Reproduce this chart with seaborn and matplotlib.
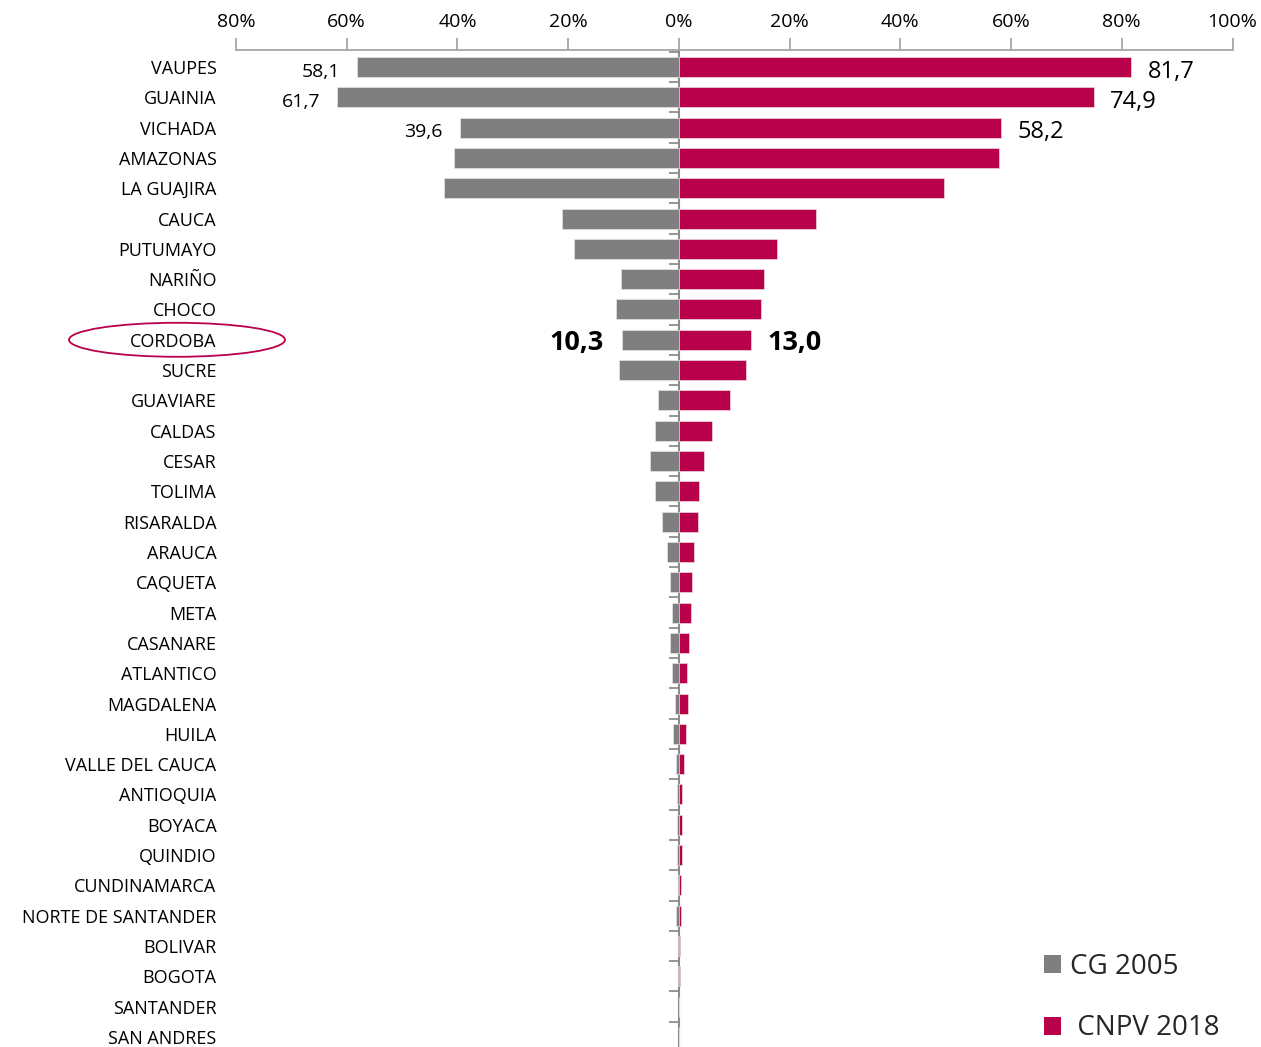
import matplotlib
matplotlib.use("Agg")
import matplotlib.pyplot as plt
import matplotlib.transforms as mtransforms
from matplotlib.patches import Ellipse, Patch
import seaborn as sns
import pandas as pd
import numpy as np

# ---------------- data ----------------
deptos = ["VAUPES", "GUAINIA", "VICHADA", "AMAZONAS", "LA GUAJIRA", "CAUCA",
          "PUTUMAYO", "NARIÑO", "CHOCO", "CORDOBA", "SUCRE", "GUAVIARE",
          "CALDAS", "CESAR", "TOLIMA", "RISARALDA", "ARAUCA", "CAQUETA", "META",
          "CASANARE", "ATLANTICO", "MAGDALENA", "HUILA", "VALLE DEL CAUCA",
          "ANTIOQUIA", "BOYACA", "QUINDIO", "CUNDINAMARCA", "NORTE DE SANTANDER",
          "BOLIVAR", "BOGOTA", "SANTANDER", "SAN ANDRES"]
cg2005 = [58.1, 61.7, 39.6, 40.6, 42.5, 21.1, 18.9, 10.4, 11.4, 10.3, 10.9,
          3.8, 4.3, 5.2, 4.3, 3.0, 2.2, 1.6, 1.3, 1.6, 1.3, 0.7, 1.0, 0.5,
          0.4, 0.4, 0.35, 0.2, 0.6, 0.1, 0.1, 0.05, 0.0]
cnpv2018 = [81.7, 74.9, 58.2, 57.8, 47.9, 24.8, 17.8, 15.4, 14.9, 13.0, 12.1,
            9.3, 5.9, 4.6, 3.6, 3.5, 2.65, 2.35, 2.1, 1.75, 1.5, 1.6, 1.2, 0.85,
            0.6, 0.6, 0.55, 0.4, 0.35, 0.25, 0.2, 0.05, 0.05]
series = ["CG 2005", "CNPV 2018"]
xticks = [-80, -60, -40, -20, 0, 20, 40, 60, 80, 100]
labeled_rows = [0, 1, 2]
highlight = "CORDOBA"

gray = "#7F7F7F"
crimson = "#B8004B"

# ---------------- figure ----------------
sns.set_theme(style="white")
plt.rcParams["font.family"] = ["Open Sans", "DejaVu Sans"]

fig = plt.figure(figsize=(12.61, 10.47), dpi=100)
W, H = 1261, 1047
x_left, x_right = 236, 1232.5
y_top = 50
ax = fig.add_axes([x_left / W, 0, (x_right - x_left) / W, (H - y_top) / H])

df = pd.DataFrame({
    "depto": deptos * 2,
    "valor": [-v for v in cg2005] + cnpv2018,
    "serie": [series[0]] * len(deptos) + [series[1]] * len(deptos),
})
sns.barplot(data=df, x="valor", y="depto", hue="serie", dodge=False,
            palette=[gray, crimson], width=0.66, order=deptos, saturation=1,
            edgecolor="#EDEDED", linewidth=0.4, legend=False, ax=ax)

pitch = 30.31
first_center = 67
ax.set_ylim((H - first_center) / pitch, -(first_center - y_top) / pitch)
ax.set_xlim(-80, 100)
ax.set_xlabel("")
ax.set_ylabel("")

# top axis
ax.xaxis.set_ticks_position("top")
ax.xaxis.set_label_position("top")
ax.set_xticks(xticks)
ax.set_xticklabels([f"{abs(t)}%" for t in xticks])
ax.tick_params(axis="x", which="major", direction="out", length=9, width=1.3,
               color="#A6A6A6", labelsize=14, pad=5, labelcolor="#000000",
               top=True, bottom=False)
for s in ["right", "bottom", "left"]:
    ax.spines[s].set_visible(False)
ax.spines["top"].set_color("#A6A6A6")
ax.spines["top"].set_linewidth(1.3)

# category labels on the left
ax.tick_params(axis="y", length=0, pad=14, labelsize=13, labelcolor="#000000")

# central axis with category-boundary ticks
sec = ax.secondary_yaxis(80 / 180)
sec.yaxis.set_ticks_position("left")
sec.set_yticks(np.arange(-0.5, len(deptos) + 0.5, 1.0))
sec.tick_params(axis="y", length=7, width=1.3, color="#8C8C8C",
                labelleft=False, labelright=False, direction="out",
                left=True, right=False)
for s in sec.spines.values():
    s.set_color("#8C8C8C")
    s.set_linewidth(1.5)

# value labels
def fmt(v):
    return f"{v:.1f}".replace(".", ",")

for i in labeled_rows:
    ax.annotate(fmt(cg2005[i]), xy=(-cg2005[i], i), xytext=(-12, -3.5),
                textcoords="offset points", ha="right", va="center",
                fontsize=14, color="#000000")
    ax.annotate(fmt(cnpv2018[i]), xy=(cnpv2018[i], i), xytext=(12, -3.5),
                textcoords="offset points", ha="left", va="center",
                fontsize=17, color="#000000")

hi = deptos.index(highlight)
ax.annotate(fmt(cg2005[hi]), xy=(-cg2005[hi], hi), xytext=(-13, -2.5),
            textcoords="offset points", ha="right", va="center",
            fontsize=19.5, fontweight="bold", color="#000000")
ax.annotate(fmt(cnpv2018[hi]), xy=(cnpv2018[hi], hi), xytext=(12, -2.5),
            textcoords="offset points", ha="left", va="center",
            fontsize=19.5, fontweight="bold", color="#000000")

# ellipse around highlighted label
trans = mtransforms.blended_transform_factory(fig.dpi_scale_trans, ax.transData)
ell = Ellipse((1.77, hi), width=2.16, height=34 / pitch, transform=trans,
              fill=False, edgecolor=crimson, linewidth=1.3, clip_on=False)
ax.add_patch(ell)

# legend
handles = [Patch(facecolor=gray, edgecolor="none"),
           Patch(facecolor=crimson, edgecolor="none")]
leg = fig.legend(handles, [series[0], " " + series[1]],
                 loc="upper left", bbox_to_anchor=(1044 / W, 1 - 953 / H),
                 frameon=False, fontsize=20, handlelength=0.62,
                 handleheight=0.62, handletextpad=0.3, labelspacing=1.2,
                 borderpad=0, borderaxespad=0)

fig.savefig("out.png", dpi=100, facecolor="white")
